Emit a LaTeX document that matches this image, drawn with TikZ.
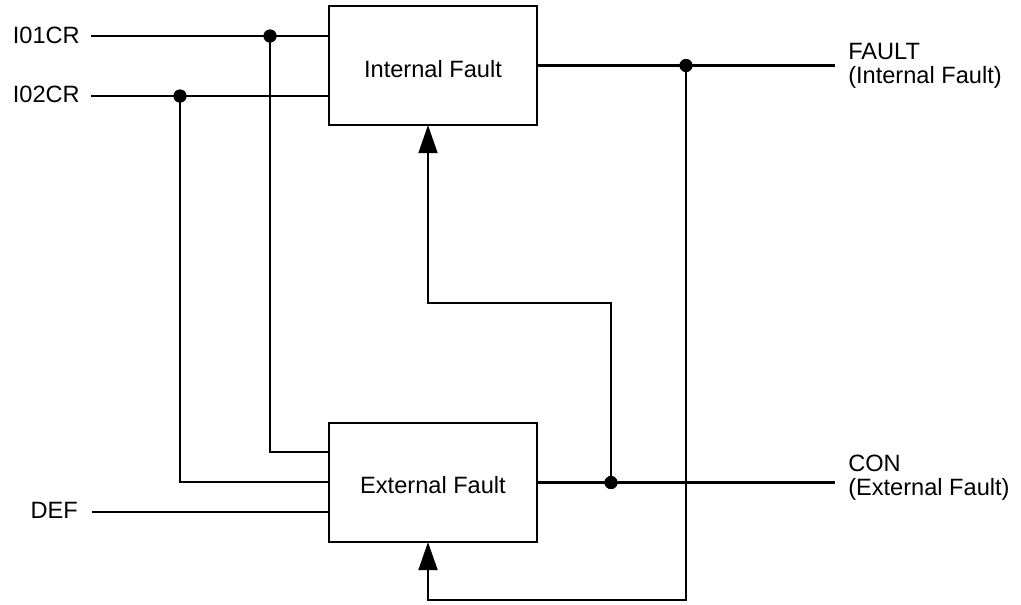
\documentclass[tikz,border=0pt]{standalone}
\usepackage{fontspec}
\setmainfont{Liberation Sans}
\usetikzlibrary{arrows.meta}
\begin{document}
\begin{tikzpicture}[x=0.75pt,y=-0.75pt,
  box/.style={draw, line width=2.2pt, minimum width=156pt, minimum height=89.25pt, inner sep=0pt, outer sep=0pt},
  wire/.style={line width=2pt},
  arr/.style={wire, -{Triangle[length=21pt,width=14pt]}},
  dot/.style={circle, fill, inner sep=0pt, minimum size=9.75pt},
  txt/.style={font=\fontsize{17.7pt}{18pt}\selectfont, inner sep=0pt},
]
\useasboundingbox (0,0) rectangle (1021,604);
% boxes
\node[box] (int) at (433,65.5) {};
\node[box] (ext) at (433,482.5) {};
\node[txt, anchor=base] (intt) at (433,77) {Internal Fault};
\node[txt, anchor=base] (extt) at (433,493) {External Fault};
% input labels
\node[txt, anchor=base east] (l1) at (80,43) {I01CR};
\node[txt, anchor=base east] (l2) at (80,102) {I02CR};
\node[txt, anchor=base east] (l3) at (78,518) {DEF};
% output labels
\node[txt, anchor=base west] (o1a) at (848,59) {FAULT};
\node[txt, anchor=base west] (o1b) at (848,83) {(Internal Fault)};
\node[txt, anchor=base west] (o2a) at (848,471) {CON};
\node[txt, anchor=base west] (o2b) at (848,495) {(External Fault)};
% coordinates
\coordinate (i1) at (91,36);
\coordinate (i2) at (91,96);
\coordinate (i3) at (92,512);
\coordinate (e1) at (329,452);
\coordinate (e2) at (329,482);
\coordinate (fo) at (835,65.5);
\coordinate (co) at (835,482.5);
\coordinate (a1) at (428,303);
\coordinate (a2) at (428,600);
\node[dot] (d1) at (270,36) {};
\node[dot] (d2) at (180,96) {};
\node[dot] (d3) at (686,65.5) {};
\node[dot] (d4) at (611,482.5) {};
% wires
\draw[wire] (i1) -- (i1 -| int.west);
\draw[wire] (i2) -- (i2 -| int.west);
\draw[wire] (i3) -- (i3 -| ext.west);
\draw[wire] (d1.center) |- (e1);
\draw[wire] (d2.center) |- (e2);
\draw[wire] (int.east) -- (fo);
\draw[wire] (ext.east) -- (co);
\draw[arr] (d4.center) |- (a1) -- (a1 |- int.south);
\draw[arr] (d3.center) |- (a2) -- (a2 |- ext.south);
% redraw dots on top
\node[dot] at (d1) {};
\node[dot] at (d2) {};
\node[dot] at (d3) {};
\node[dot] at (d4) {};
\end{tikzpicture}
\end{document}
